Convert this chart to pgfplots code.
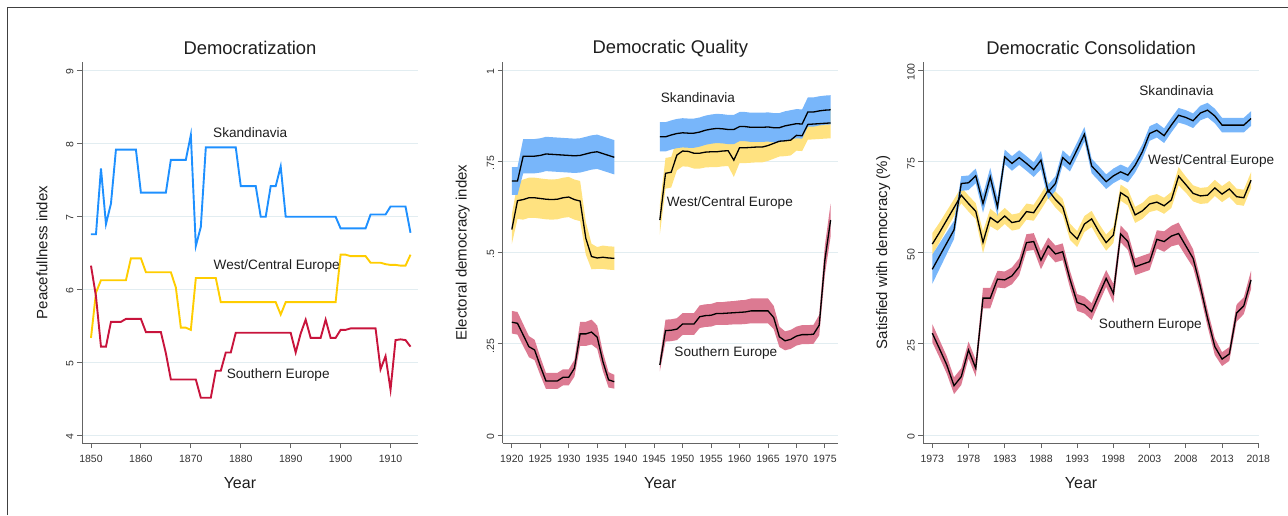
\documentclass[border=0pt]{standalone}
\usepackage{fontspec}
\setmainfont{Liberation Sans}
\usepackage{pgfplots}
\usepackage{pgfplotstable}
\pgfplotsset{compat=1.18}

\definecolor{blueline}{RGB}{30,144,255}
\definecolor{yellowline}{RGB}{255,205,0}
\definecolor{redline}{RGB}{200,20,60}
\definecolor{blueband}{RGB}{120,182,250}
\definecolor{yellowband}{RGB}{255,226,128}
\definecolor{redband}{RGB}{220,122,146}
\definecolor{gridc}{RGB}{226,237,241}
\definecolor{axc}{RGB}{100,100,100}
\definecolor{tickc}{RGB}{50,50,50}
\definecolor{txtc}{RGB}{30,30,30}

\pgfplotstableread{
year sk wc se
1850 6.75 5.33 6.32
1851 6.75 5.95 5.90
1852 7.65 6.12 5.21
1853 6.89 6.12 5.21
1854 7.17 6.12 5.55
1855 7.91 6.12 5.55
1856 7.91 6.12 5.55
1857 7.91 6.12 5.59
1858 7.91 6.42 5.59
1859 7.91 6.42 5.59
1860 7.32 6.42 5.59
1861 7.32 6.23 5.41
1862 7.32 6.23 5.41
1863 7.32 6.23 5.41
1864 7.32 6.23 5.41
1865 7.32 6.23 5.12
1866 7.77 6.23 4.76
1867 7.77 6.02 4.76
1868 7.77 5.47 4.76
1869 7.77 5.47 4.76
1870 8.11 5.44 4.76
1871 6.59 6.15 4.76
1872 6.85 6.15 4.51
1873 7.94 6.15 4.51
1874 7.94 6.15 4.51
1875 7.94 6.15 4.88
1876 7.94 5.82 4.88
1877 7.94 5.82 5.13
1878 7.94 5.82 5.13
1879 7.94 5.82 5.40
1880 7.41 5.82 5.40
1881 7.41 5.82 5.40
1882 7.41 5.82 5.40
1883 7.41 5.82 5.40
1884 6.99 5.82 5.40
1885 6.99 5.82 5.40
1886 7.41 5.82 5.40
1887 7.41 5.82 5.40
1888 7.68 5.65 5.40
1889 6.99 5.82 5.40
1890 6.99 5.82 5.40
1891 6.99 5.82 5.13
1892 6.99 5.82 5.39
1893 6.99 5.82 5.58
1894 6.99 5.82 5.33
1895 6.99 5.82 5.33
1896 6.99 5.82 5.33
1897 6.99 5.82 5.58
1898 6.99 5.82 5.33
1899 6.99 5.82 5.33
1900 6.83 6.47 5.44
1901 6.83 6.47 5.44
1902 6.83 6.45 5.46
1903 6.83 6.45 5.46
1904 6.83 6.45 5.46
1905 6.83 6.45 5.46
1906 7.02 6.36 5.46
1907 7.02 6.36 5.46
1908 7.02 6.36 4.90
1909 7.02 6.34 5.08
1910 7.13 6.33 4.62
1911 7.13 6.33 5.30
1912 7.13 6.32 5.31
1913 7.13 6.32 5.30
1914 6.77 6.47 5.21
}\tPeace

\pgfplotstableread{
year sm wm rm
1920 0.696 0.563 0.309
1921 0.696 0.642 0.306
1922 0.764 0.645 0.274
1923 0.764 0.650 0.242
1924 0.764 0.650 0.233
1925 0.766 0.648 0.189
1926 0.770 0.646 0.148
1927 0.769 0.645 0.148
1928 0.768 0.646 0.148
1929 0.767 0.650 0.158
1930 0.766 0.652 0.158
1931 0.765 0.645 0.183
1932 0.766 0.641 0.277
1933 0.770 0.539 0.277
1934 0.774 0.489 0.282
1935 0.776 0.485 0.268
1936 0.771 0.487 0.201
1937 0.766 0.485 0.151
1938 0.761 0.484 0.146
}\tQa

\pgfplotstableread{
year sm wm rm
1946 0.817 0.589 0.192
1947 0.817 0.717 0.286
1948 0.822 0.720 0.287
1949 0.826 0.767 0.290
1950 0.828 0.778 0.304
1951 0.827 0.777 0.304
1952 0.827 0.772 0.304
1953 0.830 0.772 0.324
1954 0.835 0.775 0.327
1955 0.838 0.776 0.328
1956 0.840 0.776 0.333
1957 0.839 0.778 0.333
1958 0.837 0.779 0.334
1959 0.837 0.753 0.335
1960 0.845 0.787 0.336
1961 0.845 0.787 0.337
1962 0.843 0.788 0.340
1963 0.843 0.789 0.340
1964 0.843 0.789 0.340
1965 0.844 0.793 0.340
1966 0.842 0.799 0.322
1967 0.842 0.805 0.269
1968 0.847 0.806 0.258
1969 0.850 0.808 0.262
1970 0.853 0.821 0.271
1971 0.852 0.820 0.275
1972 0.885 0.851 0.275
1973 0.885 0.852 0.276
1974 0.888 0.853 0.301
1975 0.890 0.854 0.480
1976 0.891 0.855 0.589
}\tQb

\pgfplotstableread{
year sm wm rm
1973 45.4 52.3 27.9
1974 49.0 55.5 23.6
1975 52.6 58.9 19.2
1976 56.2 62.3 13.5
1977 68.9 65.7 16.0
1978 69.1 63.4 23.3
1979 71.0 61.3 18.3
1980 63.4 52.8 37.5
1981 70.7 59.6 37.5
1982 62.5 58.2 42.7
1983 76.2 60.0 42.5
1984 74.4 58.2 43.6
1985 76.0 58.6 46.1
1986 74.4 61.2 52.7
1987 72.7 60.9 53.0
1988 75.3 63.9 47.9
1989 66.6 67.1 51.8
1990 68.9 64.5 49.6
1991 76.0 62.5 50.2
1992 74.2 55.7 42.7
1993 78.2 53.7 36.3
1994 82.4 57.8 35.6
1995 73.7 59.2 33.8
1996 71.6 55.7 38.4
1997 69.4 52.7 42.9
1998 71.0 54.8 38.8
1999 72.1 66.4 55.1
2000 71.2 65.1 53.0
2001 73.9 60.3 46.1
2002 77.6 61.4 46.8
2003 82.6 63.3 47.5
2004 83.5 63.8 53.6
2005 82.0 62.8 53.0
2006 84.9 64.4 54.5
2007 87.6 70.9 55.2
2008 87.0 68.6 51.8
2009 86.1 66.2 48.4
2010 88.2 65.5 40.7
2011 89.0 65.7 32.0
2012 87.4 67.7 24.2
2013 84.9 66.0 20.8
2014 84.9 67.4 22.2
2015 84.9 65.3 33.4
2016 84.9 65.0 35.4
2017 86.7 69.8 42.5
}\tCons

\tikzset{
  curvelab/.style={font=\fontsize{13.6}{16}\selectfont, text=txtc, anchor=center},
  meanline/.style={black, line width=1.3pt},
}
\pgfplotsset{
  stataaxis/.style={
    scale only axis, height=381pt, anchor=south west,
    axis x line*=bottom, axis y line*=left,
    axis line style={draw=axc, line width=0.9pt},
    tick align=outside, major tick length=5pt,
    every tick/.style={draw=axc, line width=0.9pt},
    ymajorgrids, grid style={draw=gridc, line width=0.9pt},
    ticklabel style={font=\fontsize{10.5}{12}\selectfont, text=tickc},
    xticklabel style={yshift=-3.5pt},
    yticklabel style={rotate=90, anchor=south, xshift=-2pt},
    /pgf/number format/assume math mode=true,
    title style={font=\fontsize{18.4}{22}\selectfont, text=txtc, at={(axis description cs:0.5,1.020)}, anchor=center},
    xlabel style={font=\fontsize{16}{19}\selectfont, text=txtc, at={(axis description cs:0.47,-0.105)}, anchor=center},
    ylabel style={font=\fontsize{15}{18}\selectfont, text=txtc, at={(axis description cs:-0.119,0.5)}, anchor=center},
    xlabel={Year},
    clip=false,
  },
}

\begin{document}
\begin{tikzpicture}
\path[use as bounding box] (0pt,0pt) rectangle (1288pt,515pt);
\draw[black!75, line width=0.8pt] (7pt,0pt) -- (7pt,508pt) -- (1288pt,508pt);

% Panel 1
\begin{axis}[stataaxis, at={(82pt,72pt)}, width=336pt,
  xmin=1848.2, xmax=1915.5, ymin=3.89, ymax=9.11,
  xtick={1850,1860,1870,1880,1890,1900,1910},
  xticklabels={1850,1860,1870,1880,1890,1900,1910},
  ytick={4,5,6,7,8,9}, yticklabels={4,5,6,7,8,9},
  title={Democratization}, ylabel={Peacefullness index}]
\addplot[blueline, line width=1.9pt] table[x=year,y=sk]{\tPeace};
\addplot[yellowline, line width=1.9pt] table[x=year,y=wc]{\tPeace};
\addplot[redline, line width=1.9pt] table[x=year,y=se]{\tPeace};
\node[curvelab] at (axis cs:1881.9,8.14) {Skandinavia};
\node[curvelab] at (axis cs:1887.2,6.32) {West/Central Europe};
\node[curvelab] at (axis cs:1887.5,4.82) {Southern Europe};
\end{axis}

% Panel 2
\begin{axis}[stataaxis, at={(502.7pt,72pt)}, width=335.3pt,
  xmin=1918.4, xmax=1977.3, ymin=-0.022, ymax=1.022,
  xtick={1920,1925,1930,1935,1940,1945,1950,1955,1960,1965,1970,1975},
  xticklabels={1920,1925,1930,1935,1940,1945,1950,1955,1960,1965,1970,1975},
  ytick={0,0.25,0.5,0.75,1}, yticklabels={0,.25,.5,.75,1},
  title={Democratic Quality}, ylabel={Electoral democracy index}]
% yellow band 1920-1938 (upper edge, then lower edge backwards)
\addplot[fill=yellowband, draw=none] coordinates {
(1920,0.603) (1921,0.692) (1922,0.700) (1923,0.705) (1924,0.705) (1925,0.703) (1926,0.701) (1927,0.700) (1928,0.701) (1929,0.705) (1930,0.707) (1931,0.700) (1932,0.696) (1933,0.584) (1934,0.524) (1935,0.515) (1936,0.519) (1937,0.517) (1938,0.516)
(1938,0.452) (1937,0.453) (1936,0.455) (1935,0.455) (1934,0.454) (1933,0.494) (1932,0.586) (1931,0.590) (1930,0.597) (1929,0.595) (1928,0.591) (1927,0.590) (1926,0.591) (1925,0.593) (1924,0.595) (1923,0.595) (1922,0.590) (1921,0.592) (1920,0.523)};
% yellow band 1946-1976
\addplot[fill=yellowband, draw=none] coordinates {
(1946,0.629) (1947,0.759) (1948,0.762) (1949,0.809) (1950,0.820) (1951,0.819) (1952,0.814) (1953,0.814) (1954,0.817) (1955,0.818) (1956,0.818) (1957,0.820) (1958,0.821) (1959,0.799) (1960,0.829) (1961,0.829) (1962,0.830) (1963,0.831) (1964,0.831) (1965,0.835) (1966,0.841) (1967,0.847) (1968,0.848) (1969,0.850) (1970,0.863) (1971,0.862) (1972,0.893) (1973,0.894) (1974,0.895) (1975,0.896) (1976,0.897)
(1976,0.813) (1975,0.812) (1974,0.811) (1973,0.810) (1972,0.809) (1971,0.778) (1970,0.779) (1969,0.766) (1968,0.764) (1967,0.763) (1966,0.757) (1965,0.751) (1964,0.747) (1963,0.747) (1962,0.746) (1961,0.745) (1960,0.745) (1959,0.707) (1958,0.737) (1957,0.736) (1956,0.734) (1955,0.734) (1954,0.733) (1953,0.730) (1952,0.730) (1951,0.735) (1950,0.736) (1949,0.725) (1948,0.678) (1947,0.675) (1946,0.549)};
% blue band 1920-1938
\addplot[fill=blueband, draw=none] coordinates {
(1920,0.734) (1921,0.734) (1922,0.811) (1923,0.811) (1924,0.811) (1925,0.813) (1926,0.817) (1927,0.816) (1928,0.815) (1929,0.814) (1930,0.813) (1931,0.812) (1932,0.813) (1933,0.817) (1934,0.821) (1935,0.823) (1936,0.818) (1937,0.813) (1938,0.808)
(1938,0.714) (1937,0.719) (1936,0.724) (1935,0.729) (1934,0.727) (1933,0.723) (1932,0.719) (1931,0.718) (1930,0.719) (1929,0.720) (1928,0.721) (1927,0.722) (1926,0.723) (1925,0.719) (1924,0.717) (1923,0.717) (1922,0.717) (1921,0.658) (1920,0.658)};
% blue band 1946-1976
\addplot[fill=blueband, draw=none] coordinates {
(1946,0.857) (1947,0.857) (1948,0.862) (1949,0.866) (1950,0.868) (1951,0.867) (1952,0.867) (1953,0.870) (1954,0.875) (1955,0.878) (1956,0.880) (1957,0.879) (1958,0.877) (1959,0.877) (1960,0.885) (1961,0.885) (1962,0.883) (1963,0.883) (1964,0.883) (1965,0.884) (1966,0.882) (1967,0.882) (1968,0.887) (1969,0.890) (1970,0.893) (1971,0.892) (1972,0.925) (1973,0.925) (1974,0.928) (1975,0.930) (1976,0.931)
(1976,0.851) (1975,0.850) (1974,0.848) (1973,0.845) (1972,0.845) (1971,0.812) (1970,0.813) (1969,0.810) (1968,0.807) (1967,0.802) (1966,0.802) (1965,0.804) (1964,0.803) (1963,0.803) (1962,0.803) (1961,0.805) (1960,0.805) (1959,0.797) (1958,0.797) (1957,0.799) (1956,0.800) (1955,0.798) (1954,0.795) (1953,0.790) (1952,0.787) (1951,0.787) (1950,0.788) (1949,0.786) (1948,0.782) (1947,0.777) (1946,0.777)};
% red band 1920-1938
\addplot[fill=redband, draw=none] coordinates {
(1920,0.340) (1921,0.337) (1922,0.304) (1923,0.271) (1924,0.261) (1925,0.214) (1926,0.170) (1927,0.170) (1928,0.170) (1929,0.180) (1930,0.180) (1931,0.206) (1932,0.310) (1933,0.310) (1934,0.316) (1935,0.300) (1936,0.227) (1937,0.172) (1938,0.165)
(1938,0.127) (1937,0.130) (1936,0.175) (1935,0.236) (1934,0.248) (1933,0.244) (1932,0.244) (1931,0.160) (1930,0.136) (1929,0.136) (1928,0.126) (1927,0.126) (1926,0.126) (1925,0.164) (1924,0.205) (1923,0.213) (1922,0.244) (1921,0.275) (1920,0.278)};
% red band 1946-1976
\addplot[fill=redband, draw=none] coordinates {
(1946,0.210) (1947,0.316) (1948,0.317) (1949,0.320) (1950,0.334) (1951,0.334) (1952,0.334) (1953,0.355) (1954,0.358) (1955,0.359) (1956,0.364) (1957,0.364) (1958,0.366) (1959,0.367) (1960,0.369) (1961,0.370) (1962,0.374) (1963,0.374) (1964,0.374) (1965,0.374) (1966,0.354) (1967,0.297) (1968,0.284) (1969,0.288) (1970,0.297) (1971,0.301) (1972,0.301) (1973,0.302) (1974,0.329) (1975,0.520) (1976,0.634)
(1976,0.544) (1975,0.440) (1974,0.273) (1973,0.250) (1972,0.249) (1971,0.249) (1970,0.245) (1969,0.236) (1968,0.232) (1967,0.241) (1966,0.290) (1965,0.306) (1964,0.306) (1963,0.306) (1962,0.306) (1961,0.304) (1960,0.303) (1959,0.303) (1958,0.302) (1957,0.302) (1956,0.302) (1955,0.297) (1954,0.296) (1953,0.293) (1952,0.274) (1951,0.274) (1950,0.274) (1949,0.260) (1948,0.257) (1947,0.256) (1946,0.174)};
\addplot[meanline] table[x=year,y=sm]{\tQa};
\addplot[meanline] table[x=year,y=sm]{\tQb};
\addplot[meanline] table[x=year,y=wm]{\tQa};
\addplot[meanline] table[x=year,y=wm]{\tQb};
\addplot[meanline] table[x=year,y=rm]{\tQa};
\addplot[meanline] table[x=year,y=rm]{\tQb};
\node[curvelab] at (axis cs:1952.7,0.924) {Skandinavia};
\node[curvelab] at (axis cs:1958.3,0.635) {West/Central Europe};
\node[curvelab] at (axis cs:1957.6,0.224) {Southern Europe};
\end{axis}

% Panel 3
\begin{axis}[stataaxis, at={(923.3pt,72pt)}, width=335.7pt,
  xmin=1971.76, xmax=2018.1, ymin=-2.19, ymax=102.19,
  xtick={1973,1978,1983,1988,1993,1998,2003,2008,2013,2018},
  xticklabels={1973,1978,1983,1988,1993,1998,2003,2008,2013,2018},
  ytick={0,25,50,75,100}, yticklabels={0,25,50,75,100},
  title={Democratic Consolidation}, ylabel={Satisfied with democracy (\%)}]
% yellow band
\addplot[fill=yellowband, draw=none] coordinates {
(1973,55.3) (1974,58.2) (1975,61.4) (1976,64.6) (1977,67.9) (1978,65.6) (1979,63.5) (1980,55.8) (1981,62.0) (1982,60.4) (1983,62.2) (1984,60.4) (1985,60.8) (1986,63.4) (1987,63.1) (1988,66.1) (1989,69.3) (1990,66.7) (1991,64.7) (1992,57.9) (1993,55.9) (1994,60.0) (1995,61.4) (1996,57.9) (1997,54.9) (1998,57.0) (1999,68.6) (2000,67.3) (2001,62.5) (2002,63.6) (2003,65.5) (2004,66.0) (2005,65.0) (2006,66.6) (2007,73.4) (2008,70.8) (2009,68.4) (2010,67.7) (2011,67.9) (2012,69.9) (2013,68.2) (2014,69.6) (2015,67.5) (2016,67.2) (2017,72.0)
(2017,67.6) (2016,62.8) (2015,63.1) (2014,65.2) (2013,63.8) (2012,65.5) (2011,63.5) (2010,63.3) (2009,64.0) (2008,66.4) (2007,68.4) (2006,62.2) (2005,60.6) (2004,61.6) (2003,61.1) (2002,59.2) (2001,58.1) (2000,62.9) (1999,64.2) (1998,52.6) (1997,50.5) (1996,53.5) (1995,57.0) (1994,55.6) (1993,51.5) (1992,53.5) (1991,60.3) (1990,62.3) (1989,64.9) (1988,61.7) (1987,58.7) (1986,59.0) (1985,56.4) (1984,56.0) (1983,57.8) (1982,56.0) (1981,57.2) (1980,49.8) (1979,59.1) (1978,61.2) (1977,63.5) (1976,60.0) (1975,56.4) (1974,52.8) (1973,49.3)};
% blue band
\addplot[fill=blueband, draw=none] coordinates {
(1973,49.4) (1974,52.5) (1975,55.6) (1976,58.7) (1977,70.9) (1978,71.1) (1979,73.0) (1980,65.9) (1981,73.2) (1982,65.0) (1983,78.2) (1984,76.4) (1985,78.0) (1986,76.4) (1987,74.7) (1988,77.8) (1989,68.6) (1990,70.9) (1991,78.0) (1992,76.2) (1993,80.2) (1994,84.4) (1995,75.7) (1996,73.6) (1997,71.4) (1998,73.0) (1999,74.1) (2000,73.2) (2001,75.9) (2002,79.6) (2003,84.6) (2004,85.5) (2005,84.0) (2006,86.9) (2007,89.6) (2008,89.0) (2009,88.1) (2010,90.2) (2011,91.0) (2012,89.4) (2013,86.9) (2014,86.9) (2015,86.9) (2016,86.9) (2017,88.7)
(2017,84.7) (2016,82.9) (2015,82.9) (2014,82.9) (2013,82.9) (2012,85.4) (2011,87.0) (2010,86.2) (2009,84.1) (2008,85.0) (2007,85.6) (2006,82.9) (2005,80.0) (2004,81.5) (2003,80.6) (2002,75.6) (2001,71.9) (2000,69.2) (1999,70.1) (1998,69.0) (1997,67.4) (1996,69.6) (1995,71.7) (1994,80.4) (1993,76.2) (1992,72.2) (1991,74.0) (1990,66.9) (1989,64.6) (1988,72.8) (1987,70.7) (1986,72.4) (1985,74.0) (1984,72.4) (1983,74.2) (1982,60.0) (1981,68.2) (1980,60.9) (1979,69.0) (1978,67.1) (1977,66.9) (1976,53.7) (1975,49.6) (1974,45.5) (1973,41.4)};
% red band
\addplot[fill=redband, draw=none] coordinates {
(1973,30.4) (1974,26.0) (1975,21.6) (1976,15.8) (1977,18.3) (1978,25.6) (1979,20.6) (1980,40.3) (1981,40.3) (1982,45.0) (1983,44.8) (1984,45.9) (1985,48.4) (1986,55.0) (1987,55.3) (1988,50.4) (1989,54.1) (1990,51.9) (1991,52.5) (1992,45.0) (1993,38.6) (1994,37.9) (1995,36.1) (1996,40.7) (1997,45.2) (1998,41.4) (1999,57.4) (2000,55.3) (2001,48.4) (2002,49.1) (2003,49.8) (2004,56.1) (2005,55.8) (2006,57.3) (2007,58.2) (2008,54.6) (2009,50.9) (2010,43.0) (2011,34.3) (2012,26.5) (2013,22.7) (2014,24.1) (2015,35.7) (2016,37.7) (2017,45.0)
(2017,40.0) (2016,33.1) (2015,31.1) (2014,20.3) (2013,18.9) (2012,21.9) (2011,29.7) (2010,38.4) (2009,45.9) (2008,49.0) (2007,52.2) (2006,51.7) (2005,50.2) (2004,51.1) (2003,45.2) (2002,44.5) (2001,43.8) (2000,50.7) (1999,52.8) (1998,36.2) (1997,40.6) (1996,36.1) (1995,31.5) (1994,33.3) (1993,34.0) (1992,40.4) (1991,47.9) (1990,47.3) (1989,49.5) (1988,45.4) (1987,50.7) (1986,50.4) (1985,43.8) (1984,41.3) (1983,40.2) (1982,40.4) (1981,34.7) (1980,34.7) (1979,16.0) (1978,21.0) (1977,13.7) (1976,11.2) (1975,16.8) (1974,21.2) (1973,25.4)};
\addplot[meanline] table[x=year,y=sm]{\tCons};
\addplot[meanline] table[x=year,y=wm]{\tCons};
\addplot[meanline] table[x=year,y=rm]{\tCons};
\node[curvelab] at (axis cs:2006.7,94.3) {Skandinavia};
\node[curvelab] at (axis cs:2011.5,75.0) {West/Central Europe};
\node[curvelab] at (axis cs:2003.1,30.1) {Southern Europe};
\end{axis}
\end{tikzpicture}
\end{document}
